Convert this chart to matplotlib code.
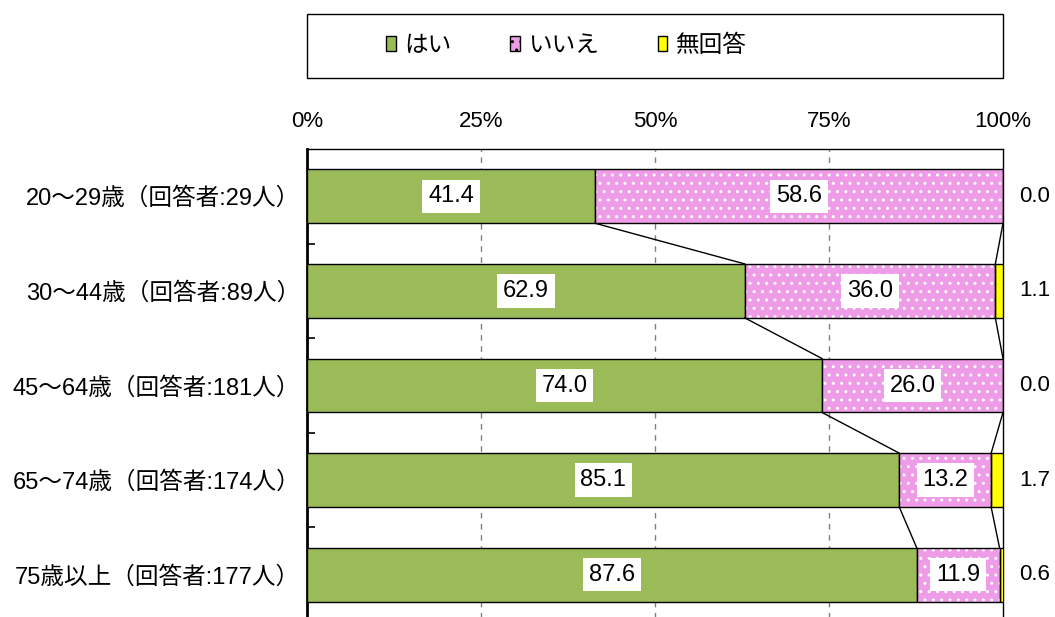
import matplotlib
matplotlib.use("Agg")
import matplotlib.pyplot as plt
from matplotlib.patches import Patch, Rectangle
import numpy as np

plt.rcParams['font.family'] = ['Liberation Sans', 'Noto Sans CJK JP', 'DejaVu Sans']
plt.rcParams['hatch.linewidth'] = 1.0

categories = ['20～29歳（回答者:29人）', '30～44歳（回答者:89人）', '45～64歳（回答者:181人）',
              '65～74歳（回答者:174人）', '75歳以上（回答者:177人）']
series_names = ['はい', 'いいえ', '無回答']
yes = [41.4, 62.9, 74.0, 85.1, 87.6]
no = [58.6, 36.0, 26.0, 13.2, 11.9]
na = [0.0, 1.1, 0.0, 1.7, 0.6]
xticks = [0, 25, 50, 75, 100]
xticklabels = ['0%', '25%', '50%', '75%', '100%']

GREEN = '#9BBB59'
PINK = '#EE9CE8'
YELLOW = '#FFFF00'

fig = plt.figure(figsize=(10.55, 6.17), dpi=100)
ax = fig.add_axes([307/1055, 1 - 622/617, (1003-307)/1055, (622-149)/617])

y = np.arange(len(categories))
h = 0.57
yes_a = np.array(yes); no_a = np.array(no); na_a = np.array(na)

ax.barh(y, yes_a, height=h, color=GREEN, edgecolor='black', linewidth=1, zorder=3)
ax.barh(y, no_a, left=yes_a, height=h, color=PINK, edgecolor='white', linewidth=0,
        hatch='..', zorder=3)
ax.barh(y, no_a, left=yes_a, height=h, facecolor='none', edgecolor='black', linewidth=1, zorder=3.5)
ax.barh(y, na_a, left=yes_a + no_a, height=h, color=YELLOW, edgecolor='black', linewidth=1, zorder=3)

cum1 = yes_a
cum2 = yes_a + no_a
for i in range(len(categories) - 1):
    for c in (cum1, cum2):
        ax.plot([c[i], c[i+1]], [y[i] + h/2, y[i+1] - h/2], color='black', lw=1, zorder=4)

box = dict(facecolor='white', edgecolor='none', pad=4)
for i in range(len(categories)):
    ax.text(yes_a[i] / 2, y[i], f'{yes[i]:.1f}', ha='center', va='center', fontsize=17,
            bbox=box, zorder=5)
    ax.text(yes_a[i] + no_a[i] / 2, y[i], f'{no[i]:.1f}', ha='center', va='center', fontsize=17,
            bbox=box, zorder=5)
    ax.text(104.6, y[i], f'{na[i]:.1f}', ha='center', va='center', fontsize=16, clip_on=False)

ax.set_xlim(0, 100)
ax.set_ylim(len(categories) - 0.5, -0.5)
ax.xaxis.tick_top()
ax.set_xticks(xticks)
ax.set_xticklabels(xticklabels, fontsize=16)
ax.tick_params(axis='x', length=0, pad=12)
ax.set_yticks(y)
ax.set_yticklabels(categories, fontsize=17)
ax.tick_params(axis='y', length=0, pad=5)
ax.set_yticks(np.arange(0.5, len(categories) - 1, 1.0), minor=True)
ax.tick_params(axis='y', which='minor', length=6, direction='in', width=1.2)

for xv in xticks[1:-1]:
    ax.axvline(xv, color='#808080', lw=1, ls=(0, (4, 4)), zorder=1)

ax.spines['left'].set_linewidth(2)
ax.spines['top'].set_linewidth(1)
ax.spines['right'].set_linewidth(1)
ax.spines['bottom'].set_visible(False)

# legend frame and legend
fig.patches.append(Rectangle((307/1055, 1 - 78/617), (1003-307)/1055, 64/617,
                             transform=fig.transFigure, facecolor='white', edgecolor='black', lw=1))
handles = [Patch(facecolor=GREEN, edgecolor='black', lw=1),
           Patch(facecolor=PINK, edgecolor='black', lw=1, hatch='..'),
           Patch(facecolor=YELLOW, edgecolor='black', lw=1)]
fig.legend(handles, series_names, loc='center left', bbox_to_anchor=(377/1055, 1 - 46/617),
           ncol=3, frameon=False, fontsize=17, handlelength=0.4, handleheight=0.6,
           handletextpad=0.35, columnspacing=2.5, borderaxespad=0)

fig.savefig('out.png', dpi=100)
